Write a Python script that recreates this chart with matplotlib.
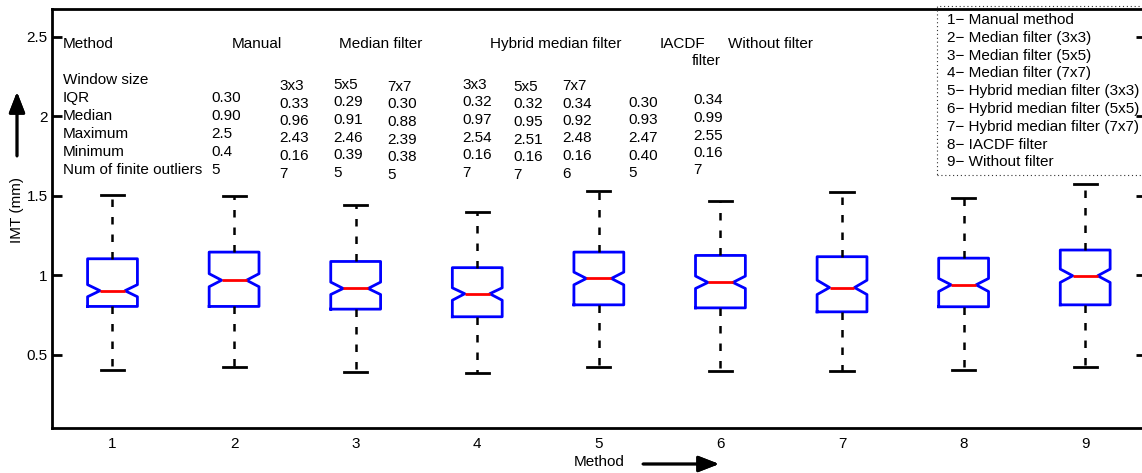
import matplotlib.pyplot as plt
from matplotlib.patches import Rectangle

plt.rcParams["font.family"] = ["Liberation Sans", "DejaVu Sans"]

W, H = 1142, 473

# box statistics (IMT in mm)
methods = [1, 2, 3, 4, 5, 6, 7, 8, 9]
med = [0.902, 0.968, 0.916, 0.883, 0.979, 0.954, 0.922, 0.939, 0.996]
q1 = [0.803, 0.803, 0.786, 0.738, 0.813, 0.794, 0.769, 0.801, 0.813]
q3 = [1.103, 1.145, 1.086, 1.047, 1.145, 1.124, 1.116, 1.107, 1.158]
whislo = [0.401, 0.422, 0.391, 0.385, 0.424, 0.395, 0.397, 0.404, 0.422]
whishi = [1.503, 1.498, 1.440, 1.400, 1.530, 1.469, 1.521, 1.484, 1.574]
cilo = [0.864, 0.927, 0.878, 0.842, 0.939, 0.916, 0.878, 0.897, 0.954]
cihi = [0.940, 1.009, 0.956, 0.920, 1.019, 0.994, 0.968, 0.979, 1.038]

# table in the upper left
row_labels = ["Window size", "IQR", "Median", "Maximum", "Minimum",
              "Num of finite outliers"]
headers = ["Manual", "Median filter", "Hybrid median filter", "IACDF",
           "filter", "Without filter"]
window = ["", "3x3", "5x5", "7x7", "3x3", "5x5", "7x7", "", ""]
iqr = ["0.30", "0.33", "0.29", "0.30", "0.32", "0.32", "0.34", "0.30", "0.34"]
median_txt = ["0.90", "0.96", "0.91", "0.88", "0.97", "0.95", "0.92", "0.93", "0.99"]
maximum = ["2.5", "2.43", "2.46", "2.39", "2.54", "2.51", "2.48", "2.47", "2.55"]
minimum = ["0.4", "0.16", "0.39", "0.38", "0.16", "0.16", "0.16", "0.40", "0.16"]
outliers = ["5", "7", "5", "5", "7", "7", "6", "5", "7"]

legend_lines = [
    "1\u2212 Manual method",
    "2\u2212 Median filter (3x3)",
    "3\u2212 Median filter (5x5)",
    "4\u2212 Median filter (7x7)",
    "5\u2212 Hybrid median filter (3x3)",
    "6\u2212 Hybrid median filter (5x5)",
    "7\u2212 Hybrid median filter (7x7)",
    "8\u2212 IACDF filter",
    "9\u2212 Without filter",
]

# layout (pixels from top-left of the image)
header_x = [232, 339, 490, 660, 692, 728]
header_y = [44, 44, 44, 44, 61, 44]
col_x = [211, 279, 333, 387, 462, 513, 562, 628, 693]
col_y0 = [80, 86, 85, 87, 85, 87, 86, 85.5, 83]
col_step = [18, 17.5, 17.5, 17.5, 17.5, 17.5, 17.5, 17.5, 17.5]


def fx(x):
    return x / W


def fy(y):
    return 1 - y / H


fs = 11
fig = plt.figure(figsize=(W / 100, H / 100), dpi=100)
ax = fig.add_axes([fx(51.7), fy(428.3), fx(1146) - fx(51.7), fy(9) - fy(428.3)])

stats = []
for i in range(len(methods)):
    stats.append({"med": med[i], "q1": q1[i], "q3": q3[i],
                  "whislo": whislo[i], "whishi": whishi[i],
                  "cilo": cilo[i], "cihi": cihi[i], "fliers": []})

ax.bxp(stats, positions=methods, widths=0.41, capwidths=0.19,
       shownotches=True, showfliers=False,
       boxprops=dict(color="#0000ff", lw=2),
       medianprops=dict(color="#ff0000", lw=2),
       whiskerprops=dict(color="black", lw=1.8, linestyle=(0, (3, 4))),
       capprops=dict(color="black", lw=2))

ax.set_xlim(0.5, 9.5)
ax.set_ylim(0.036, 2.675)
ax.set_yticks([0.5, 1, 1.5, 2, 2.5])
ax.set_yticklabels(["0.5", "1", "1.5", "2", "2.5"])
ax.set_xticks(methods)
ax.set_xticklabels([str(m) for m in methods])
ax.tick_params(axis="y", direction="in", length=7, width=2, right=True,
               labelsize=fs, pad=3)
ax.tick_params(axis="x", length=0, labelsize=fs, pad=6)
for s in ax.spines.values():
    s.set_linewidth(2)

# axis labels with arrows
fig.text(fx(17), fy(210), "IMT (mm)", rotation=90, ha="center", va="center",
         fontsize=fs)
fig.text(fx(599), fy(462), "Method", ha="center", va="center", fontsize=fs)
arrow = dict(arrowstyle="-|>,head_length=0.9,head_width=0.35", color="black",
             lw=2, mutation_scale=14, shrinkA=0, shrinkB=0)
fig.add_artist(plt.annotate("", xy=(fx(17), fy(92)), xytext=(fx(17), fy(156)),
                            xycoords="figure fraction", arrowprops=arrow))
fig.add_artist(plt.annotate("", xy=(fx(719), fy(464)), xytext=(fx(643), fy(464)),
                            xycoords="figure fraction", arrowprops=arrow))

# table
fig.text(fx(63), fy(44), "Method", ha="left", va="center", fontsize=fs)
for lab, x, y in zip(headers, header_x, header_y):
    fig.text(fx(x), fy(y), lab, ha="left", va="center", fontsize=fs)
for j, lab in enumerate(row_labels):
    fig.text(fx(63), fy(80 + 18 * j), lab, ha="left", va="center", fontsize=fs)
rows = [window, iqr, median_txt, maximum, minimum, outliers]
for c in range(len(col_x)):
    for r, vals in enumerate(rows):
        if vals[c]:
            fig.text(fx(col_x[c]), fy(col_y0[c] + col_step[c] * r), vals[c],
                     ha="left", va="center", fontsize=fs)

# legend box
fig.add_artist(Rectangle((fx(937), fy(175)), fx(1160) - fx(937), fy(6) - fy(175),
                         transform=fig.transFigure, fill=False, ec="#333333",
                         lw=0.8, linestyle=(0, (1, 2.5))))
for i, line in enumerate(legend_lines):
    fig.text(fx(947), fy(20 + 17.8 * i), line, ha="left", va="center",
             fontsize=fs)

fig.savefig("out.png", dpi=100)
